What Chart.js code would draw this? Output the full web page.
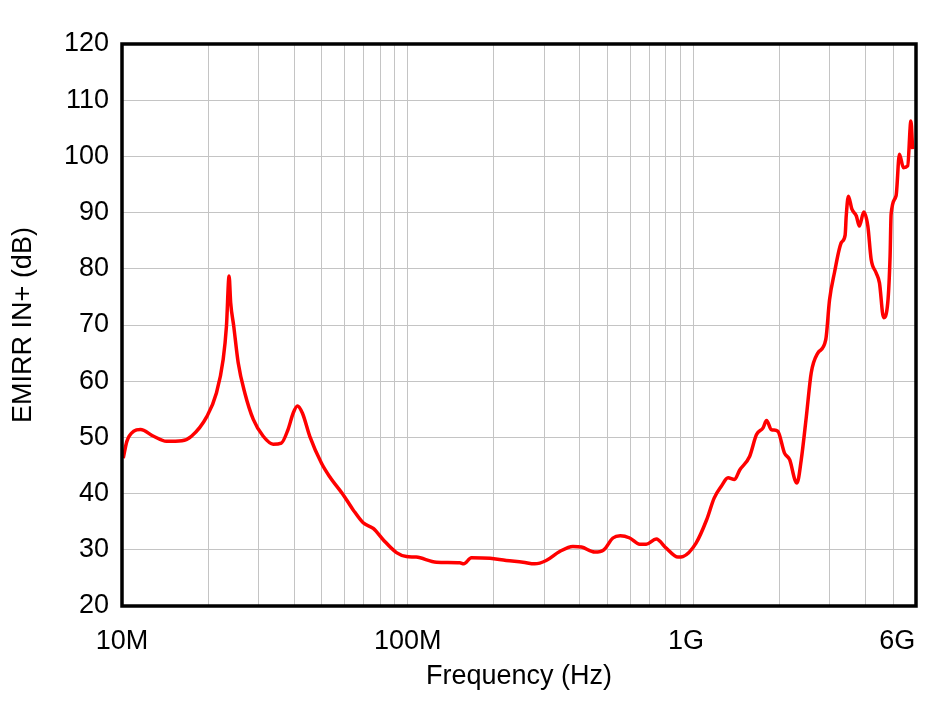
<!DOCTYPE html>
<html>
<head>
<meta charset="utf-8">
<script src="https://cdn.jsdelivr.net/npm/chart.js@4/dist/chart.umd.min.js"></script>
<style>
  html, body { margin: 0; padding: 0; background: #fff; }
  #wrap { width: 944px; height: 701px; }
</style>
</head>
<body>
<div id="wrap"><canvas id="emirr-chart" width="944" height="701"></canvas></div>
<script>
// frequency in MHz
const freqMHz = [
    10.1, 10.4, 11.0, 11.6, 12.9, 14.3, 16.2, 17.5, 19.8, 21.4,
    22.6, 23.2, 23.7, 24.0, 24.6, 25.5, 26.9, 28.8, 31.2, 33.8,
    36.1, 38.1, 39.7, 41.1, 42.8, 45.4, 49.9, 53.3, 59.4, 64.4,
    69.8, 75.7, 82.0, 91.3, 98.9, 107, 126, 152, 157, 167,
    194, 221, 253, 278, 305, 340, 378, 405, 451, 485,
    522, 554, 598, 648, 683, 740, 802, 881, 917, 1020,
    1110, 1180, 1250, 1320, 1390, 1450, 1570, 1660, 1750, 1800,
    1870, 1970, 2080, 2170, 2260, 2300, 2380, 2480, 2580, 2720,
    2900, 2990, 3110, 3290, 3390, 3420, 3480, 3580, 3710, 3800,
    3940, 4070, 4180, 4350, 4470, 4620, 4780, 4870, 4910, 5110,
    5250, 5420, 5610, 5760, 5840
];
// EMIRR IN+ in dB
const emirrDb = [
    46.3, 49.3, 51.1, 51.4, 50.2, 49.3, 49.4, 50.2, 53.7, 57.9,
    63.9, 69.8, 78.7, 74.0, 69.8, 63.3, 57.9, 53.2, 50.2, 48.8,
    49.0, 51.4, 54.3, 55.6, 54.3, 50.2, 45.4, 43.0, 39.8, 37.1,
    34.8, 33.8, 31.8, 29.5, 28.8, 28.7, 27.8, 27.7, 27.5, 28.6,
    28.5, 28.1, 27.8, 27.5, 28.1, 29.7, 30.6, 30.5, 29.6, 30.0,
    32.1, 32.5, 32.1, 31.0, 31.0, 31.9, 30.3, 28.7, 28.8, 31.2,
    35.3, 39.2, 41.3, 42.8, 42.5, 44.2, 46.6, 50.5, 51.7, 53.0,
    51.4, 51.1, 47.2, 46.0, 42.5, 41.9, 46.0, 53.7, 61.5, 65.0,
    67.4, 74.5, 79.3, 84.7, 86.0, 89.4, 92.9, 90.6, 89.4, 87.6,
    90.1, 87.6, 81.7, 79.3, 77.5, 71.3, 74.0, 82.3, 89.7, 93.0,
    100.4, 98.0, 98.3, 106.3, 101.3
];

const xTickValues = [10, 100, 1000, 6000];
// trailing spaces push 1G and 6G a little left of their grid line, as in the original
const xTickLabels = ['10M', '100M', '1G\u00a0\u00a0', '6G\u00a0\u00a0\u00a0\u00a0\u00a0'];
const yMin = 20, yMax = 120, yStep = 10;

const fontFamily = '"Liberation Sans", Arial, sans-serif';

// black frame round the plot area
const frame = {
    id: 'frame',
    afterDatasetsDraw(chart) {
        const a = chart.chartArea;
        const ctx = chart.ctx;
        ctx.save();
        ctx.strokeStyle = '#000';
        ctx.lineWidth = 3.5;
        ctx.strokeRect(a.left, a.top, a.right - a.left, a.bottom - a.top);
        ctx.restore();
    }
};

function createEmirrChart(targetID) {
    const ctx = document.getElementById(targetID).getContext('2d');
    const points = freqMHz.map((f, i) => ({ x: f, y: emirrDb[i] }));
    return new Chart(ctx, {
        type: 'line',
        data: {
            datasets: [{
                data: points,
                borderColor: '#ff0000',
                borderWidth: 3.5,
                pointRadius: 0,
                cubicInterpolationMode: 'monotone',
                fill: false
            }]
        },
        options: {
            responsive: false,
            animation: false,
            layout: { padding: { left: 0, top: 44, right: 28, bottom: 0 } },
            plugins: { legend: { display: false }, tooltip: { enabled: false } },
            scales: {
                x: {
                    type: 'logarithmic',
                    min: 10,
                    max: 6000,
                    afterBuildTicks(scale) {
                        // grid at 1..9 of every decade, labels only at xTickValues
                        const ticks = [];
                        for (let d = 10; d <= 1000; d *= 10) {
                            for (let m = 1; m <= 9; m++) {
                                if (d * m <= 6000) ticks.push({ value: d * m });
                            }
                        }
                        scale.ticks = ticks;
                    },
                    afterFit(scale) {
                        scale.height = 95;
                        scale.paddingLeft = 0;
                        scale.paddingRight = 0;
                    },
                    ticks: {
                        autoSkip: false,
                        maxRotation: 0,
                        padding: 19,
                        color: '#000',
                        font: { family: fontFamily, size: 27 },
                        callback(value) {
                            const i = xTickValues.indexOf(value);
                            return i >= 0 ? xTickLabels[i] : '';
                        }
                    },
                    grid: { color: '#c4c4c4', lineWidth: 1, drawTicks: false },
                    border: { display: false },
                    title: {
                        display: true,
                        text: 'Frequency (Hz)',
                        color: '#000',
                        font: { family: fontFamily, size: 27 },
                        padding: { top: 0, bottom: 8 }
                    }
                },
                y: {
                    min: yMin,
                    max: yMax,
                    afterFit(scale) { scale.width = 122; },
                    ticks: {
                        stepSize: yStep,
                        padding: 13,
                        color: '#000',
                        font: { family: fontFamily, size: 27 }
                    },
                    grid: { color: '#c4c4c4', lineWidth: 1, drawTicks: false },
                    border: { display: false },
                    title: {
                        display: true,
                        text: 'EMIRR IN+ (dB)',
                        color: '#000',
                        font: { family: fontFamily, size: 27 },
                        padding: { top: 7, bottom: 0 }
                    }
                }
            }
        },
        plugins: [frame]
    });
}

createEmirrChart('emirr-chart');
</script>
</body>
</html>
